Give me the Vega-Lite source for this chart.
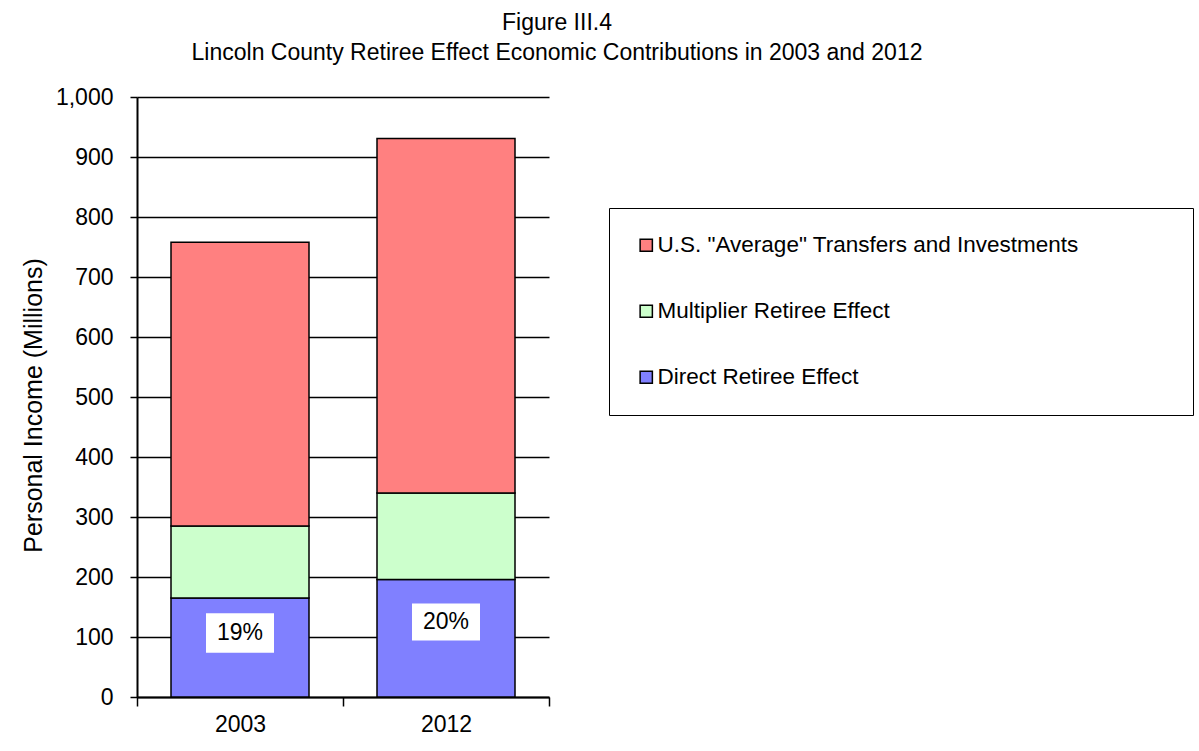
{
  "$schema": "https://vega.github.io/schema/vega-lite/v6.json",
  "autosize": "none",
  "width": 412,
  "height": 600,
  "padding": {"left": 137, "top": 97, "right": 650, "bottom": 54},
  "background": "white",
  "title": {
    "text": ["Figure III.4", "Lincoln County Retiree Effect Economic Contributions in 2003 and 2012"],
    "anchor": "middle",
    "dx": 214,
    "offset": 21,
    "fontSize": 23,
    "lineHeight": 30,
    "font": "Liberation Sans",
    "fontWeight": "normal",
    "color": "black"
  },
  "config": {
    "view": {"stroke": null},
    "font": "Liberation Sans",
    "axis": {
      "labelFont": "Liberation Sans",
      "titleFont": "Liberation Sans",
      "labelColor": "black",
      "titleColor": "black",
      "labelFontSize": 23,
      "titleFontSize": 23,
      "titleFontWeight": "normal",
      "domainColor": "black",
      "tickColor": "black"
    }
  },
  "datasets": {
    "bars": [
      {"year": "2003", "category": "Direct Retiree Effect", "value": 165},
      {"year": "2003", "category": "Multiplier Retiree Effect", "value": 120},
      {"year": "2003", "category": "U.S. \"Average\" Transfers and Investments", "value": 473},
      {"year": "2012", "category": "Direct Retiree Effect", "value": 196},
      {"year": "2012", "category": "Multiplier Retiree Effect", "value": 144},
      {"year": "2012", "category": "U.S. \"Average\" Transfers and Investments", "value": 591}
    ],
    "labels": [
      {"year": "2003", "label": "19%", "mid": 106.7, "lo": 73.8, "hi": 139.5},
      {"year": "2012", "label": "20%", "mid": 125, "lo": 94, "hi": 156}
    ]
  },
  "encoding": {
    "x": {
      "field": "year",
      "type": "nominal",
      "scale": {"paddingInner": 0, "paddingOuter": 0},
      "axis": {
        "title": null,
        "labelAngle": 0,
        "tickBand": "extent",
        "tickSize": 9,
        "tickWidth": 1.5,
        "domainWidth": 2,
        "labelPadding": 7,
        "grid": false
      }
    }
  },
  "layer": [
    {
      "data": {"name": "bars"},
      "mark": {"type": "bar", "stroke": "black", "strokeWidth": 1.5, "opacity": 1, "width": 138},
      "encoding": {
        "y": {
          "field": "value",
          "type": "quantitative",
          "stack": "zero",
          "scale": {"domain": [0, 1000], "nice": false},
          "axis": {
            "title": "Personal Income (Millions)",
            "titleFontSize": 25,
            "titleY": 308,
            "values": [0, 100, 200, 300, 400, 500, 600, 700, 800, 900, 1000],
            "format": ",d",
            "grid": true,
            "gridColor": "black",
            "gridWidth": 1.5,
            "gridOpacity": 1,
            "tickSize": 7,
            "tickWidth": 1.5,
            "domainWidth": 2,
            "labelPadding": 17,
            "titlePadding": 9
          }
        },
        "color": {
          "field": "category",
          "type": "nominal",
          "scale": {
            "domain": ["U.S. \"Average\" Transfers and Investments", "Multiplier Retiree Effect", "Direct Retiree Effect"],
            "range": ["#FF8080", "#CCFFCC", "#8080FF"]
          },
          "legend": {
            "title": null,
            "orient": "none",
            "legendX": 472,
            "legendY": 111,
            "strokeColor": "black",
            "fillColor": "white",
            "padding": 26,
            "symbolType": "square",
            "symbolSize": 150,
            "symbolStrokeColor": "black",
            "symbolStrokeWidth": 1.5,
            "symbolOpacity": 1,
            "labelFontSize": 22.5,
            "labelFont": "Liberation Sans",
            "labelColor": "black",
            "labelLimit": 0,
            "labelOffset": 0,
            "rowPadding": 43,
            "labelExpr": "datum.label + '\u00a0\u00a0\u00a0\u00a0\u00a0\u00a0\u00a0\u00a0\u00a0\u00a0\u00a0\u00a0\u00a0\u00a0\u200b'"
          }
        },
        "order": {"field": "category", "sort": "ascending"}
      }
    },
    {
      "data": {"name": "labels"},
      "mark": {"type": "bar", "fill": "white", "width": 68},
      "encoding": {
        "y": {"field": "lo", "type": "quantitative"},
        "y2": {"field": "hi"}
      }
    },
    {
      "data": {"name": "labels"},
      "mark": {"type": "text", "fontSize": 23, "font": "Liberation Sans", "color": "black", "baseline": "middle", "align": "center"},
      "encoding": {
        "y": {"field": "mid", "type": "quantitative"},
        "text": {"field": "label"}
      }
    }
  ]
}
